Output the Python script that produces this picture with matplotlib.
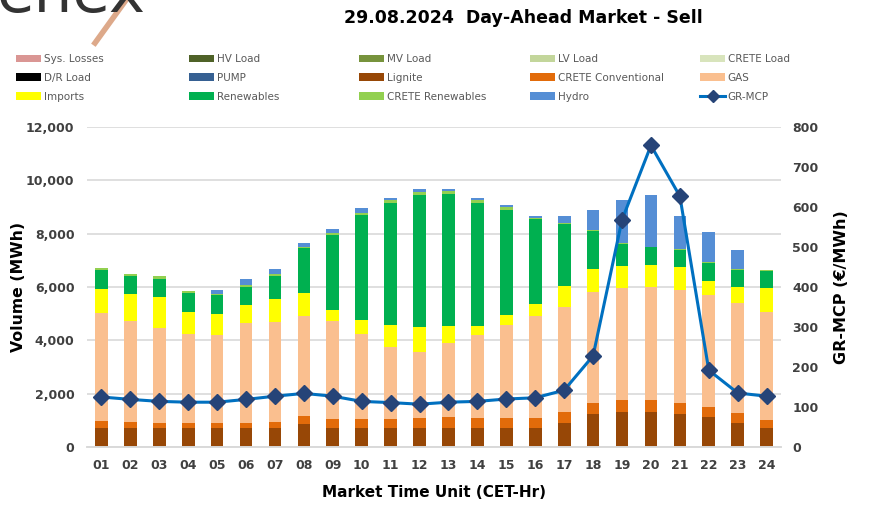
import matplotlib
matplotlib.use("Agg")
import matplotlib.pyplot as plt
from matplotlib.lines import Line2D
from matplotlib.ticker import FuncFormatter
import numpy as np

hours = ["01", "02", "03", "04", "05", "06", "07", "08", "09", "10", "11", "12",
         "13", "14", "15", "16", "17", "18", "19", "20", "21", "22", "23", "24"]

# volumes in MWh
lignite = [712, 712, 712, 712, 712, 712, 712, 862, 712, 712, 712, 712,
           712, 712, 712, 712, 912, 1225, 1300, 1300, 1225, 1125, 912, 712]
crete_conv = [250, 213, 200, 175, 175, 200, 238, 300, 338, 338, 338, 375,
              400, 375, 375, 375, 400, 425, 450, 450, 412, 375, 350, 288]
gas = [4050, 3787, 3563, 3338, 3300, 3725, 3750, 3750, 3662, 3200, 2687, 2463,
       2775, 3100, 3488, 3813, 3925, 4162, 4200, 4237, 4263, 4212, 4150, 4062]
imports = [913, 1013, 1137, 837, 788, 675, 837, 863, 425, 525, 825, 937,
           650, 363, 362, 462, 800, 850, 850, 825, 837, 525, 575, 888]
renewables = [712, 687, 700, 713, 725, 700, 875, 1675, 2813, 3912, 4600, 4950,
              4938, 4600, 3963, 3175, 2313, 1438, 812, 675, 663, 663, 650, 662]
crete_ren = [75, 75, 88, 75, 37, 50, 63, 62, 87, 100, 100, 113,
             112, 112, 87, 63, 37, 37, 25, 25, 25, 25, 25, 38]
hydro = [0, 0, 0, 0, 138, 225, 212, 150, 150, 163, 88, 112,
         75, 63, 75, 75, 263, 763, 1613, 1938, 1225, 1125, 713, 0]
zeros = [0] * 24

# GR-MCP price, EUR/MWh
gr_mcp = [125, 119, 114, 112, 112, 119, 127, 134, 127, 114, 111, 107,
          112, 114, 120, 123, 142, 228, 568, 754, 627, 192, 135, 127]

series = [
    ("Sys. Losses", zeros, "#DA9694"),
    ("HV Load", zeros, "#4F6228"),
    ("MV Load", zeros, "#77933C"),
    ("LV Load", zeros, "#C3D69B"),
    ("CRETE Load", zeros, "#D8E4BC"),
    ("D/R Load", zeros, "#000000"),
    ("PUMP", zeros, "#366092"),
    ("Lignite", lignite, "#974706"),
    ("CRETE Conventional", crete_conv, "#E26B0A"),
    ("GAS", gas, "#FABF8F"),
    ("Imports", imports, "#FFFF00"),
    ("Renewables", renewables, "#00B050"),
    ("CRETE Renewables", crete_ren, "#92D050"),
    ("Hydro", hydro, "#558ED5"),
]

tick_col = "#404040"
plt.rcParams['font.family'] = ['DejaVu Sans']

fig = plt.figure(figsize=(8.82, 5.25), dpi=100)
ax = fig.add_axes([0.0986, 0.1486, 0.787, 0.6094])
ax2 = ax.twinx()

x = np.arange(1, 25)
bottom = np.zeros(24)
handles = {}
for name, vals, col in series:
    vals = np.array(vals, dtype=float)
    b = ax.bar(x, vals, 0.44, bottom=bottom, color=col, label=name, zorder=2)
    handles[name] = b
    bottom += vals

ax2.plot(x, gr_mcp, color="#0070C0", lw=2.2, marker="D", markersize=8,
         markerfacecolor="#264478", markeredgecolor="#264478", zorder=5)
handles["GR-MCP"] = Line2D([], [], color="#0070C0", lw=2.2, marker="D",
                           markersize=6, markerfacecolor="#264478",
                           markeredgecolor="#264478")

ax.set_xlim(0.5, 24.5)
ax.set_ylim(0, 12000)
ax.set_yticks(range(0, 12001, 2000))
ax.yaxis.set_major_formatter(FuncFormatter(lambda v, p: f"{int(v):,}"))
ax2.set_ylim(0, 800)
ax2.set_yticks(range(0, 801, 100))
ax.set_xticks(x)
ax.set_xticklabels(hours)

ax.grid(axis="y", color="#D9D9D9", lw=1.2, zorder=0)
ax.set_axisbelow(True)
for a in (ax, ax2):
    for s in ("top", "left", "right"):
        a.spines[s].set_visible(False)
    a.spines["bottom"].set_color("#D9D9D9")
    a.spines["bottom"].set_linewidth(1.2)
ax.tick_params(axis="both", length=0, labelsize=9, labelcolor=tick_col)
ax2.tick_params(axis="y", length=0, labelsize=9, labelcolor=tick_col, pad=8)
ax.tick_params(axis="y", pad=9)
ax.tick_params(axis="x", pad=9)
for lab in ax.get_xticklabels() + ax.get_yticklabels() + ax2.get_yticklabels():
    lab.set_fontweight("bold")

ax.set_ylabel("Volume (MWh)", fontsize=11.3, fontweight="bold", labelpad=0)
ax2.set_ylabel("GR-MCP (\u20ac/MWh)", fontsize=11.5, fontweight="bold", labelpad=11)
ax.set_xlabel("Market Time Unit (CET-Hr)", fontsize=11, fontweight="bold", labelpad=9)

fig.text(0.593, 0.965, "29.08.2024  Day-Ahead Market - Sell", ha="center",
         va="center", fontsize=12.5, fontweight="bold")

# legend: five columns, three rows, placed like the original
columns = [
    ["Sys. Losses", "D/R Load", "Imports"],
    ["HV Load", "PUMP", "Renewables"],
    ["MV Load", "Lignite", "CRETE Renewables"],
    ["LV Load", "CRETE Conventional", "Hydro"],
    ["CRETE Load", "GAS", "GR-MCP"],
]
col_x = [16, 189, 359, 530, 700]
for names, cx in zip(columns, col_x):
    leg = fig.legend([handles[n] for n in names], names, loc="upper left",
                     bbox_to_anchor=(cx / 882, 1 - 54 / 525), frameon=False,
                     fontsize=7.5, handlelength=2.4, handleheight=0.75,
                     handletextpad=0.25, labelspacing=0.85, borderpad=0,
                     borderaxespad=0)
    for t in leg.get_texts():
        t.set_color("#595959")

# logo at top left, mostly cut off like in the original
fig.text(-0.004, 1 - 12 / 525, "enex", fontsize=44, color="#333333",
         ha="left", va="baseline")
fig.add_artist(Line2D([126 / 882, 95 / 882], [1.0, 1 - 43 / 525],
                      transform=fig.transFigure, color="#DDA98A", lw=4))

fig.savefig("out.png", dpi=100)
